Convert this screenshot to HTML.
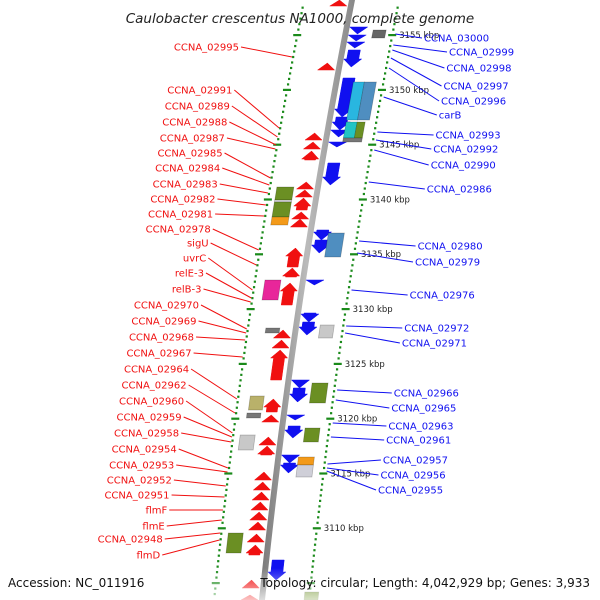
<!DOCTYPE html>
<html><head><meta charset="utf-8">
<style>
html,body{margin:0;padding:0;background:#fff;}
svg{display:block;font-family:"DejaVu Sans","Liberation Sans",sans-serif;}
</style></head>
<body>
<svg id="map" width="600" height="600" viewBox="0 0 600 600">
<defs>
<linearGradient id="bb" x1="0" x2="1" y1="0" y2="0">
<stop offset="0" stop-color="#777"/><stop offset="0.5" stop-color="#bbb"/><stop offset="1" stop-color="#888"/>
</linearGradient>
<linearGradient id="fade" x1="0" x2="0" y1="0" y2="1">
<stop offset="0" stop-color="#fff" stop-opacity="0"/><stop offset="1" stop-color="#fff" stop-opacity="0.75"/>
</linearGradient>
</defs>
<g id="layer"></g>
<text x="300" y="23" text-anchor="middle" font-size="13.5" font-style="italic" fill="#222">Caulobacter crescentus NA1000, complete genome</text>
<rect x="0" y="568" width="600" height="32" fill="url(#fade)"/>
<text x="8" y="587" font-size="12" fill="#111">Accession: NC_011916</text>
<text x="590" y="587" text-anchor="end" font-size="12" fill="#111">Topology: circular; Length: 4,042,929 bp; Genes: 3,933</text>
</svg>
<script>
// kbp tick values
const kbpTicks = [3155,3150,3145,3140,3135,3130,3125,3120,3115,3110];
// forward genes (red, screen y start/end)
const fwdStart = [0,63,133,142,151,182,190,198,212,219,248,268,283,330,340,350,399,415,437,446,472,482,492,502,512,522,534,545,580,595];
const fwdEnd   = [6,70,140,149,160,189,197,210,219,227,267,277,305,338,348,380,412,422,445,455,480,490,500,510,520,530,542,555,588,600];
// reverse genes (blue)
const revStart = [27,35,42,50,78,117,130,142,163,230,240,280,313,322,380,388,415,426,455,463,560];
const revEnd   = [34,41,48,67,117,130,137,147,185,240,253,285,322,335,388,402,420,438,463,473,580];
// classification boxes: side (-1 left, 1 right), start, end, color
const boxSide  = [1,1,1,1,1,1,-1,-1,-1,-1,1,-1,1,-1,-1,1,-1,1,1,1,-1,-1,1];
const boxStart = [30,82,82,122,122,138,187,200,202,217,233,280,325,328,396,383,413,428,457,465,435,533,592];
const boxEnd   = [38,120,120,138,138,142,200,202,217,225,257,300,338,333,410,403,418,442,465,477,450,553,600];
const boxColor = ["#666","#29b6e0","#4f8ec0","#22c4c4","#6b8f23","#777","#6b8f23","#ddd","#6b8f23","#f39a1a","#4f8ec0","#e8269a","#c8c8c8","#777","#b9b16a","#6b8f23","#777","#6b8f23","#f39a1a","#cfcfd8","#c8c8c8","#6b8f23","#6b8f23"];
const boxLane  = [[27,40],[17,28],[28,40],[17,28],[28,36],[17,36],[24,41],[24,41],[24,41],[24,41],[18,34],[22,38],[24,38],[16,30],[22,36],[24,40],[23,37],[23,38],[20,36],[20,36],[26,41],[26,41],[42,56]];
// left labels
const leftNames = ["CCNA_02995","CCNA_02991","CCNA_02989","CCNA_02988","CCNA_02987","CCNA_02985","CCNA_02984","CCNA_02983","CCNA_02982","CCNA_02981","CCNA_02978","sigU","uvrC","relE-3","relB-3","CCNA_02970","CCNA_02969","CCNA_02968","CCNA_02967","CCNA_02964","CCNA_02962","CCNA_02960","CCNA_02959","CCNA_02958","CCNA_02954","CCNA_02953","CCNA_02952","CCNA_02951","flmF","flmE","CCNA_02948","flmD"];
const leftY = [47,90,106,122,138,153,168,184,199,214,229,243,258,273,289,305,321,337,353,369,385,401,417,433,449,465,480,495,510,526,539,555];
const leftTarget = [57,128,137,145,149,178,185,193,205,216,250,265,290,298,302,329,333,340,357,399,413,433,437,442,468,472,486,497,510,520,533,540];
// right labels
const rightNames = ["CCNA_03000","CCNA_02999","CCNA_02998","CCNA_02997","CCNA_02996","carB","CCNA_02993","CCNA_02992","CCNA_02990","CCNA_02986","CCNA_02980","CCNA_02979","CCNA_02976","CCNA_02972","CCNA_02971","CCNA_02966","CCNA_02965","CCNA_02963","CCNA_02961","CCNA_02957","CCNA_02956","CCNA_02955"];
const rightY = [38,52,68,86,101,115,135,149,165,189,246,262,295,328,343,393,408,426,440,460,475,490];
const rightTarget = [34,45,50,58,68,97,132,140,150,182,241,253,290,326,333,390,400,423,437,464,468,471];

const NS="http://www.w3.org/2000/svg";
const layer=document.getElementById('layer');
function bx(y){return 352-0.1967*y+0.0000778*y*y;}
function kbpY(k){return 35+(3155-k)*10.96;}
function mk(tag,attrs){const e=document.createElementNS(NS,tag);for(const k in attrs)e.setAttribute(k,attrs[k]);layer.appendChild(e);return e;}

// backbone
let pts=[];for(let y=0;y<=600;y+=20)pts.push(y);
let bbPoly=pts.map(y=>(bx(y)-3)+','+y).concat(pts.slice().reverse().map(y=>(bx(y)+3)+','+y)).join(' ');
let bb=mk('polygon',{points:bbPoly,fill:'url(#bb)'});



// dotted rings
for(let k=3157;k>=3103;k--){
  const y=kbpY(k);
  if(y<0||y>600)continue;
  const major=(k%5===0);
  [-48,47].forEach(off=>{
    const x=bx(y)+off;
    const d=mk('rect',{x:major?x-4:x-1,y:y-1,width:major?8:2.2,height:2.2,fill:'#1a8a1a'});
    
    
  });
  const hy=y-5.5;
  if(hy>0&&hy<600){[-48,47].forEach(off=>{
    const d=mk('rect',{x:bx(hy)+off-1,y:hy-1,width:2.2,height:2.2,fill:'#1a8a1a'});
    
    
  });}
}
kbpTicks.forEach(k=>{
  const y=kbpY(k);
  const t=mk('text',{x:bx(y)+54,y:y+3,'font-size':'8.5',fill:'#222'});
  t.textContent=k+' kbp';
  
  
});

function arrow(y0,y1,a,b,up,color){
  const h=y1-y0, head=Math.min(8,h);
  const X=(y,o)=>bx(y)+o;
  let p;
  if(up){
    const yh=y0+head;
    p=[[X(y0,(a+b)/2),y0],[X(yh,b+1),yh],[X(yh,b-2),yh],[X(y1,b-2),y1],[X(y1,a+2),y1],[X(yh,a+2),yh],[X(yh,a-1),yh]];
    if(h<=8)p=[[X(y0,(a+b)/2),y0],[X(y1,b+1),y1],[X(y1,a-1),y1]];
  }else{
    const yh=y1-head;
    p=[[X(y1,(a+b)/2),y1],[X(yh,b+1),yh],[X(yh,b-2),yh],[X(y0,b-2),y0],[X(y0,a+2),y0],[X(yh,a+2),yh],[X(yh,a-1),yh]];
    if(h<=8)p=[[X(y1,(a+b)/2),y1],[X(y0,b+1),y0],[X(y0,a-1),y0]];
  }
  return mk('polygon',{points:p.map(q=>q[0].toFixed(1)+','+q[1].toFixed(1)).join(' '),fill:color,stroke:color,'stroke-width':'0.5'});
}
fwdStart.forEach((s,i)=>{
  const e=arrow(s,fwdEnd[i],-20,-5,true,'#f01010');
  
  
});
revStart.forEach((s,i)=>{
  const e=arrow(s,revEnd[i],4,20,false,'#1010f0');
  
  
});
boxStart.forEach((s,i)=>{
  const e2=boxEnd[i], a=boxLane[i][0]*boxSide[i], b=boxLane[i][1]*boxSide[i];
  const lo=Math.min(a,b), hi=Math.max(a,b);
  const p=[[bx(s)+lo,s],[bx(s)+hi,s],[bx(e2)+hi,e2],[bx(e2)+lo,e2]];
  const e=mk('polygon',{points:p.map(q=>q[0].toFixed(1)+','+q[1]).join(' '),fill:boxColor[i],stroke:'rgba(0,0,0,0.25)','stroke-width':'0.7'});
  
  
});

// labels
leftNames.forEach((n,i)=>{
  const y=leftY[i];
  const w=n.length*6.25;
  const endX=239-(y-47)*0.155;
  const ty=leftTarget[i];
  const l=mk('line',{x1:endX+2,y1:y,x2:bx(ty)-49,y2:ty,stroke:'#f01010','stroke-width':'1'});
  
  
  const t=mk('text',{x:endX,y:y+3.5,'text-anchor':'end','font-size':'10',fill:'#f01010'});
  t.textContent=n;
  
  
});
rightNames.forEach((n,i)=>{
  const y=rightY[i];
  const sx=(i===0)?424:(449-(y-52)*0.162);
  const ty=rightTarget[i];
  const l=mk('line',{x1:sx-2,y1:y,x2:bx(ty)+50,y2:ty,stroke:'#1010f0','stroke-width':'1'});
  
  
  const t=mk('text',{x:sx,y:y+3.5,'font-size':'10',fill:'#1010f0'});
  t.textContent=n;
  
  
});
</script>
</body></html>
